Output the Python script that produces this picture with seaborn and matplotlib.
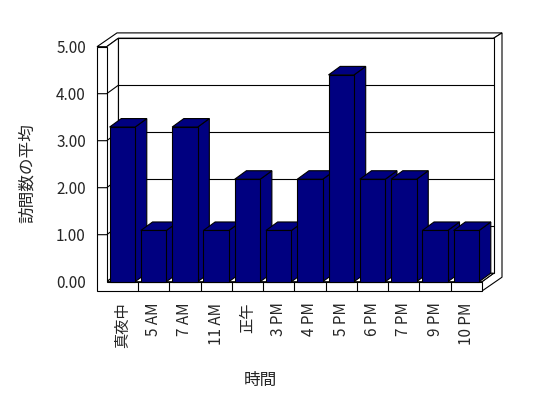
import matplotlib
matplotlib.use("Agg")
import matplotlib.pyplot as plt
import seaborn as sns
import pandas as pd
from matplotlib.patches import Polygon

# ---- data ----
categories = ["真夜中", "5 AM", "7 AM", "11 AM", "正午", "3 PM", "4 PM",
              "5 PM", "6 PM", "7 PM", "9 PM", "10 PM"]
avg_visits = [3.29, 1.09, 3.29, 1.09, 2.18, 1.09, 2.18, 4.40, 2.18, 2.18, 1.09, 1.09]
y_ticks = [0, 1, 2, 3, 4, 5]
x_title = "時間"
y_title = "訪問数の平均"

sns.set_theme(style="white")
plt.rcParams["font.family"] = ["Noto Sans CJK JP", "DejaVu Sans"]

W, H = 548, 398
fig = plt.figure(figsize=(W / 100, H / 100), dpi=100)
# front plane of the plot: x 106.7..482 px, y(0)=281.7 px, y(5)=46.7 px
left_px, right_px, bot_px, top_px = 106.7, 482.0, 281.7, 46.7
ax = fig.add_axes([left_px / W, (H - bot_px) / H,
                   (right_px - left_px) / W, (bot_px - top_px) / H])

df = pd.DataFrame({"cat": categories, "val": avg_visits})
NAVY = "#000080"
LW = 0.8
sns.barplot(data=df, x="cat", y="val", color=NAVY, saturation=1, width=0.815,
            edgecolor="black", linewidth=LW, ax=ax)
bars = sorted(list(ax.containers[0]), key=lambda p: p.get_x())

n = len(categories)
ax.set_xlim(-0.5, n - 0.5)
ax.set_ylim(0, 5)
for s in ax.spines.values():
    s.set_visible(False)

# depth offsets converted from pixels to data units
xpx = (right_px - left_px) / n          # px per category
ypx = (bot_px - top_px) / 5.0           # px per value unit
DX, DY = 11.7 / xpx, 8.5 / ypx          # back wall front face depth
DX2, DY2 = 20.0 / xpx, 13.8 / ypx       # outer back of the walls
WT = 9.7 / xpx                          # left wall thickness
FT = 9.3 / ypx                          # floor thickness

xl, xr = -0.5, n - 0.5
ymax = 5

def poly(pts, z, fc="white"):
    p = Polygon(pts, closed=True, facecolor=fc, edgecolor="black",
                linewidth=LW, zorder=z, clip_on=False, joinstyle="miter")
    ax.add_patch(p)

# back wall top face
poly([(xl + DX, ymax + DY), (xr + DX, ymax + DY), (xr + DX2, ymax + DY2),
      (xl - WT + DX2, ymax + DY2), (xl - WT, ymax), (xl, ymax)], 1)
# right side (back wall + floor)
poly([(xr, -FT), (xr + DX2, -FT + DY2), (xr + DX2, ymax + DY2),
      (xr + DX, ymax + DY), (xr + DX, DY), (xr, 0)], 1)
# back wall front face
poly([(xl + DX, DY), (xr + DX, DY), (xr + DX, ymax + DY), (xl + DX, ymax + DY)], 1)
# left wall inner face
poly([(xl, 0), (xl + DX, DY), (xl + DX, ymax + DY), (xl, ymax)], 1)
# floor top
poly([(xl, 0), (xr, 0), (xr + DX, DY), (xl + DX, DY)], 1)
# L-shaped front face (left wall + floor)
poly([(xl - WT, -FT), (xr, -FT), (xr, 0), (xl, 0), (xl, ymax), (xl - WT, ymax)], 2)

# gridlines on back wall and left wall
for v in y_ticks[1:-1]:
    ax.plot([xl + DX, xr + DX], [v + DY, v + DY], color="black", lw=LW,
            zorder=3, clip_on=False, solid_capstyle="butt")
    ax.plot([xl - WT, xl, xl + DX], [v, v, v + DY], color="black", lw=LW,
            zorder=3, clip_on=False, solid_capstyle="butt")
# category ticks on floor front face
for k in range(1, n):
    ax.plot([k - 0.5, k - 0.5], [0, -FT], color="black", lw=LW, zorder=3,
            clip_on=False, solid_capstyle="butt")

# 3D bar faces
for i, b in enumerate(bars):
    x0, w, h = b.get_x(), b.get_width(), b.get_height()
    x1 = x0 + w
    b.set_zorder(11 + 2 * i)
    b.set_clip_on(False)
    z = 10 + 2 * i
    poly([(x1, 0), (x1 + DX, DY), (x1 + DX, h + DY), (x1, h)], z, NAVY)
    poly([(x0, h), (x1, h), (x1 + DX, h + DY), (x0 + DX, h + DY)], z, NAVY)

# ticks and labels
ax.set_yticks(y_ticks)
ax.set_yticklabels([f"{v:.2f}" for v in y_ticks], fontsize=11)
ax.tick_params(axis="y", length=0, pad=15)
ax.set_xticks(range(n))
ax.set_xticklabels(categories, rotation=90, fontsize=11)
ax.tick_params(axis="x", length=0, pad=15)
ax.set_xlabel(x_title, fontsize=12)
ax.set_ylabel(y_title, fontsize=12)
ax.xaxis.set_label_coords(0.41, -0.385)
ax.yaxis.set_label_coords(-0.188, 0.46)

fig.savefig("out.png", dpi=100, facecolor="white")
